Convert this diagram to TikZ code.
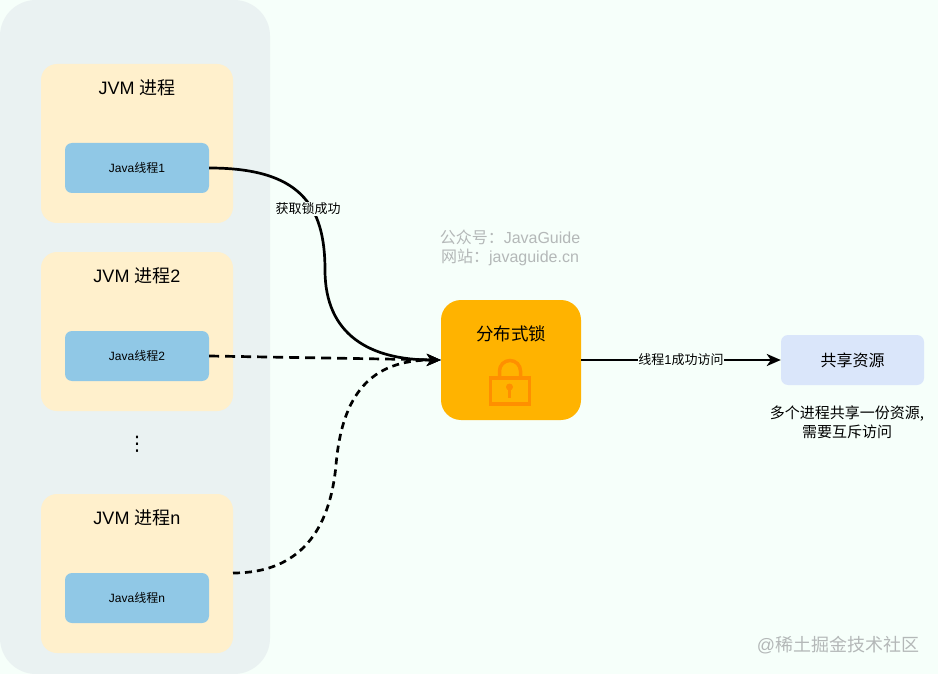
\documentclass[tikz,border=0pt]{standalone}
\usepackage{fontspec}
\usetikzlibrary{arrows.meta}
\setmainfont{Liberation Sans}
\newfontfamily\cjk{Noto Sans CJK SC}
\newfontfamily\dejavu{DejaVu Sans}
\definecolor{pagebg}{HTML}{F6FFFA}
\definecolor{panelbg}{HTML}{EAF2F2}
\definecolor{procbg}{HTML}{FFF0CC}
\definecolor{threadbg}{HTML}{90C8E6}
\definecolor{lockbg}{HTML}{FFB300}
\definecolor{lockfg}{HTML}{FF8F00}
\definecolor{resbg}{HTML}{DAE6FA}
\definecolor{marktext}{HTML}{B4B8B8}
\newcommand{\fsize}[1]{\fontsize{#1}{19}\selectfont}

\begin{document}
\begin{tikzpicture}[x=1pt, y=-1pt,
	proc/.style = {fill=procbg, rounded corners=16pt, minimum width=192pt, minimum height=159pt, inner sep=0pt},
	thread/.style = {fill=threadbg, rounded corners=7pt, minimum width=144pt, minimum height=50pt, inner sep=0pt, font=\fsize{12}},
	proctitle/.style = {font=\fsize{18}, inner sep=0pt},
	edgetext/.style = {fill=pagebg, font=\fsize{13}, inner sep=0.5pt},
	marktxt/.style = {text=marktext, inner sep=0pt},
	link/.style = {line width=2.7pt, -{Stealth[length=14pt, width=12pt, inset=4pt]}},
	lockpen/.style = {draw=lockfg, line width=3.5pt}]
	\path[use as bounding box, fill=pagebg] (0,0) rectangle (938,674);
	\fill[panelbg, rounded corners=36pt] (0,0) rectangle (270,674);

	\node[proc] (p1) at (137,143.5) {};
	\node[proctitle] (t1) at (137,88) {JVM {\cjk 进程}};
	\node[thread] (j1) at (137,168) {Java{\cjk 线程}1};

	\node[proc] (p2) at (137,331.5) {};
	\node[proctitle] (t2) at (137,276) {JVM {\cjk 进程}2};
	\node[thread] (j2) at (137,356) {Java{\cjk 线程}2};

	\node[font=\dejavu\fsize{20}, inner sep=0pt] (dots) at (137,444) {⋮};

	\node[proc] (p3) at (137,573.5) {};
	\node[proctitle] (t3) at (137,518) {JVM {\cjk 进程}n};
	\node[thread] (j3) at (137,598) {Java{\cjk 线程}n};
	\coordinate (p3out) at (233,573);

	\node[fill=lockbg, rounded corners=20pt, minimum width=140pt, minimum height=120pt, inner sep=0pt] (lock) at (511,360) {};
	\node[font=\cjk\fsize{17.5}, inner sep=0pt] (locktext) at (511,334) {分布式锁};
	\draw[lockpen] (490.5,378) rectangle (529.5,404);
	\draw[lockpen] (499.5,378) -- (499.5,371) arc[start angle=180, end angle=0, radius=10.5pt] -- (520.5,378);
	\fill[lockfg] (509.5,387) circle (3.5pt);
	\fill[lockfg] (507.8,387) rectangle (511.2,398);

	\node[fill=resbg, rounded corners=7pt, minimum width=143pt, minimum height=50pt, inner sep=0pt, font=\cjk\fsize{16}] (res) at (852.5,360) {共享资源};
	\node[font=\cjk\fsize{15}, align=center, inner sep=0pt] (note) at (847,422) {多个进程共享一份资源,\\需要互斥访问};

	\node[marktxt, font=\fsize{16}] (m1) at (510,237) {{\cjk 公众号：}JavaGuide};
	\node[marktxt, font=\fsize{16}] (m2) at (510,257) {{\cjk 网站：}javaguide.cn};
	\node[marktxt, font=\fsize{18}] (m3) at (838,645) {@{\cjk 稀土掘金技术社区}};

	\draw[link] (j1.east) .. controls (300,168) and (325,205) .. (325,270) .. controls (325,335) and (370,360) .. (lock.west);
	\draw[link, dash pattern=on 10pt off 6pt] (j2.east) -- (lock.west);
	\draw[link, dash pattern=on 7pt off 5pt] (p3out) .. controls (300,573) and (330,530) .. (336,465) .. controls (342,395) and (370,360) .. (lock.west);
	\node[edgetext, font=\cjk\fsize{13}] (l1) at (308,209) {获取锁成功};
	\draw[link] (lock.east) -- (res.west) node [pos=0.5, edgetext] (l2) {{\cjk 线程}1{\cjk 成功访问}};
\end{tikzpicture}
\end{document}
